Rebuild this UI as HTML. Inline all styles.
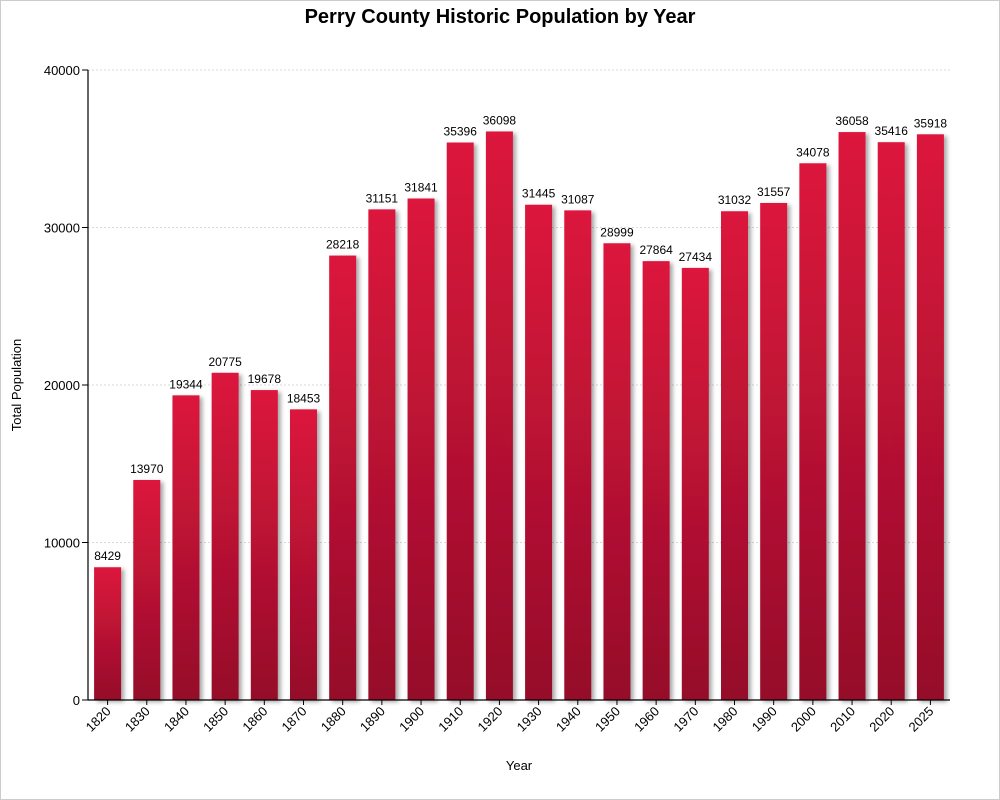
<!DOCTYPE html>
<html><head><meta charset="utf-8"><style>
body{margin:0;background:#fff;}
svg{display:block;font-family:"Segoe UI","Liberation Sans",sans-serif;}
</style></head><body>
<svg width="1000" height="800">
<defs>
<linearGradient id="g" x1="0" y1="0" x2="0" y2="1"><stop offset="0" stop-color="#dc143c"/><stop offset="1" stop-color="#950f2a"/></linearGradient>
<filter id="sh" x="-20%" y="-5%" width="160%" height="110%"><feDropShadow dx="3" dy="2" stdDeviation="2" flood-color="#000" flood-opacity="0.35"/></filter>
</defs>
<rect x="0.5" y="0.5" width="999" height="799" fill="#fff" stroke="#ccc"/>
<text x="500" y="23" text-anchor="middle" font-size="20" font-weight="bold" fill="#000">Perry County Historic Population by Year</text>
<g id="grid"></g><g id="bars"></g><g id="axes"></g>
<text x="519" y="770" text-anchor="middle" font-size="13">Year</text>
<text transform="translate(21,385) rotate(-90)" text-anchor="middle" font-size="13">Total Population</text>
</svg>
<script>
const years=["1820","1830","1840","1850","1860","1870","1880","1890","1900","1910","1920","1930","1940","1950","1960","1970","1980","1990","2000","2010","2020","2025"];
const population=[8429,13970,19344,20775,19678,18453,28218,31151,31841,35396,36098,31445,31087,28999,27864,27434,31032,31557,34078,36058,35416,35918];
const yTicks=[0,10000,20000,30000,40000];
const NS="http://www.w3.org/2000/svg";
const X0=88,X1=950,Y0=700,Y1=70,YMAX=40000;
const step=(X1-X0)/years.length,bw=27;
const y=v=>Y0-(v/YMAX)*(Y0-Y1);
const x=i=>X0+i*step+(step-bw)/2;
function mk(t,a,p){const e=document.createElementNS(NS,t);for(const k in a)e.setAttribute(k,a[k]);p.appendChild(e);return e;}
const grid=document.getElementById('grid'),bars=document.getElementById('bars'),axes=document.getElementById('axes');
yTicks.forEach(v=>{
 if(v>0){const l=mk('line',{x1:X0,x2:X1,y1:y(v),y2:y(v),stroke:'#ccc','stroke-dasharray':'2,2','stroke-width':0.8},grid);
 
 }
 const tk=mk('line',{x1:X0-6,x2:X0,y1:y(v),y2:y(v),stroke:'#000'},axes);
 
 
 const t=mk('text',{x:X0-8,y:y(v)+5,'text-anchor':'end','font-size':13},axes);t.textContent=v;
 
 
});
population.forEach((v,i)=>{
 const r=mk('rect',{x:x(i),y:y(v),width:bw,height:Y0-y(v),fill:'url(#g)',filter:'url(#sh)'},bars);
 
 
 const t=mk('text',{x:x(i)+bw/2,y:y(v)-7,'text-anchor':'middle','font-size':12},bars);t.textContent=v;
 
 
 const cx=x(i)+bw/2;
 const tk=mk('line',{x1:cx,x2:cx,y1:Y0,y2:Y0+5,stroke:'#000'},axes);
 
 
 const l=mk('text',{transform:`translate(${cx+4},${Y0+12}) rotate(-45)`,'text-anchor':'end','font-size':13},axes);l.textContent=years[i];
 
 
});
const ya=mk('line',{x1:X0,x2:X0,y1:Y1,y2:Y0,stroke:'#000','stroke-width':1.2},axes);


const xa=mk('line',{x1:X0,x2:X1,y1:Y0,y2:Y0,stroke:'#000','stroke-width':1.2},axes);


</script>
</body></html>
